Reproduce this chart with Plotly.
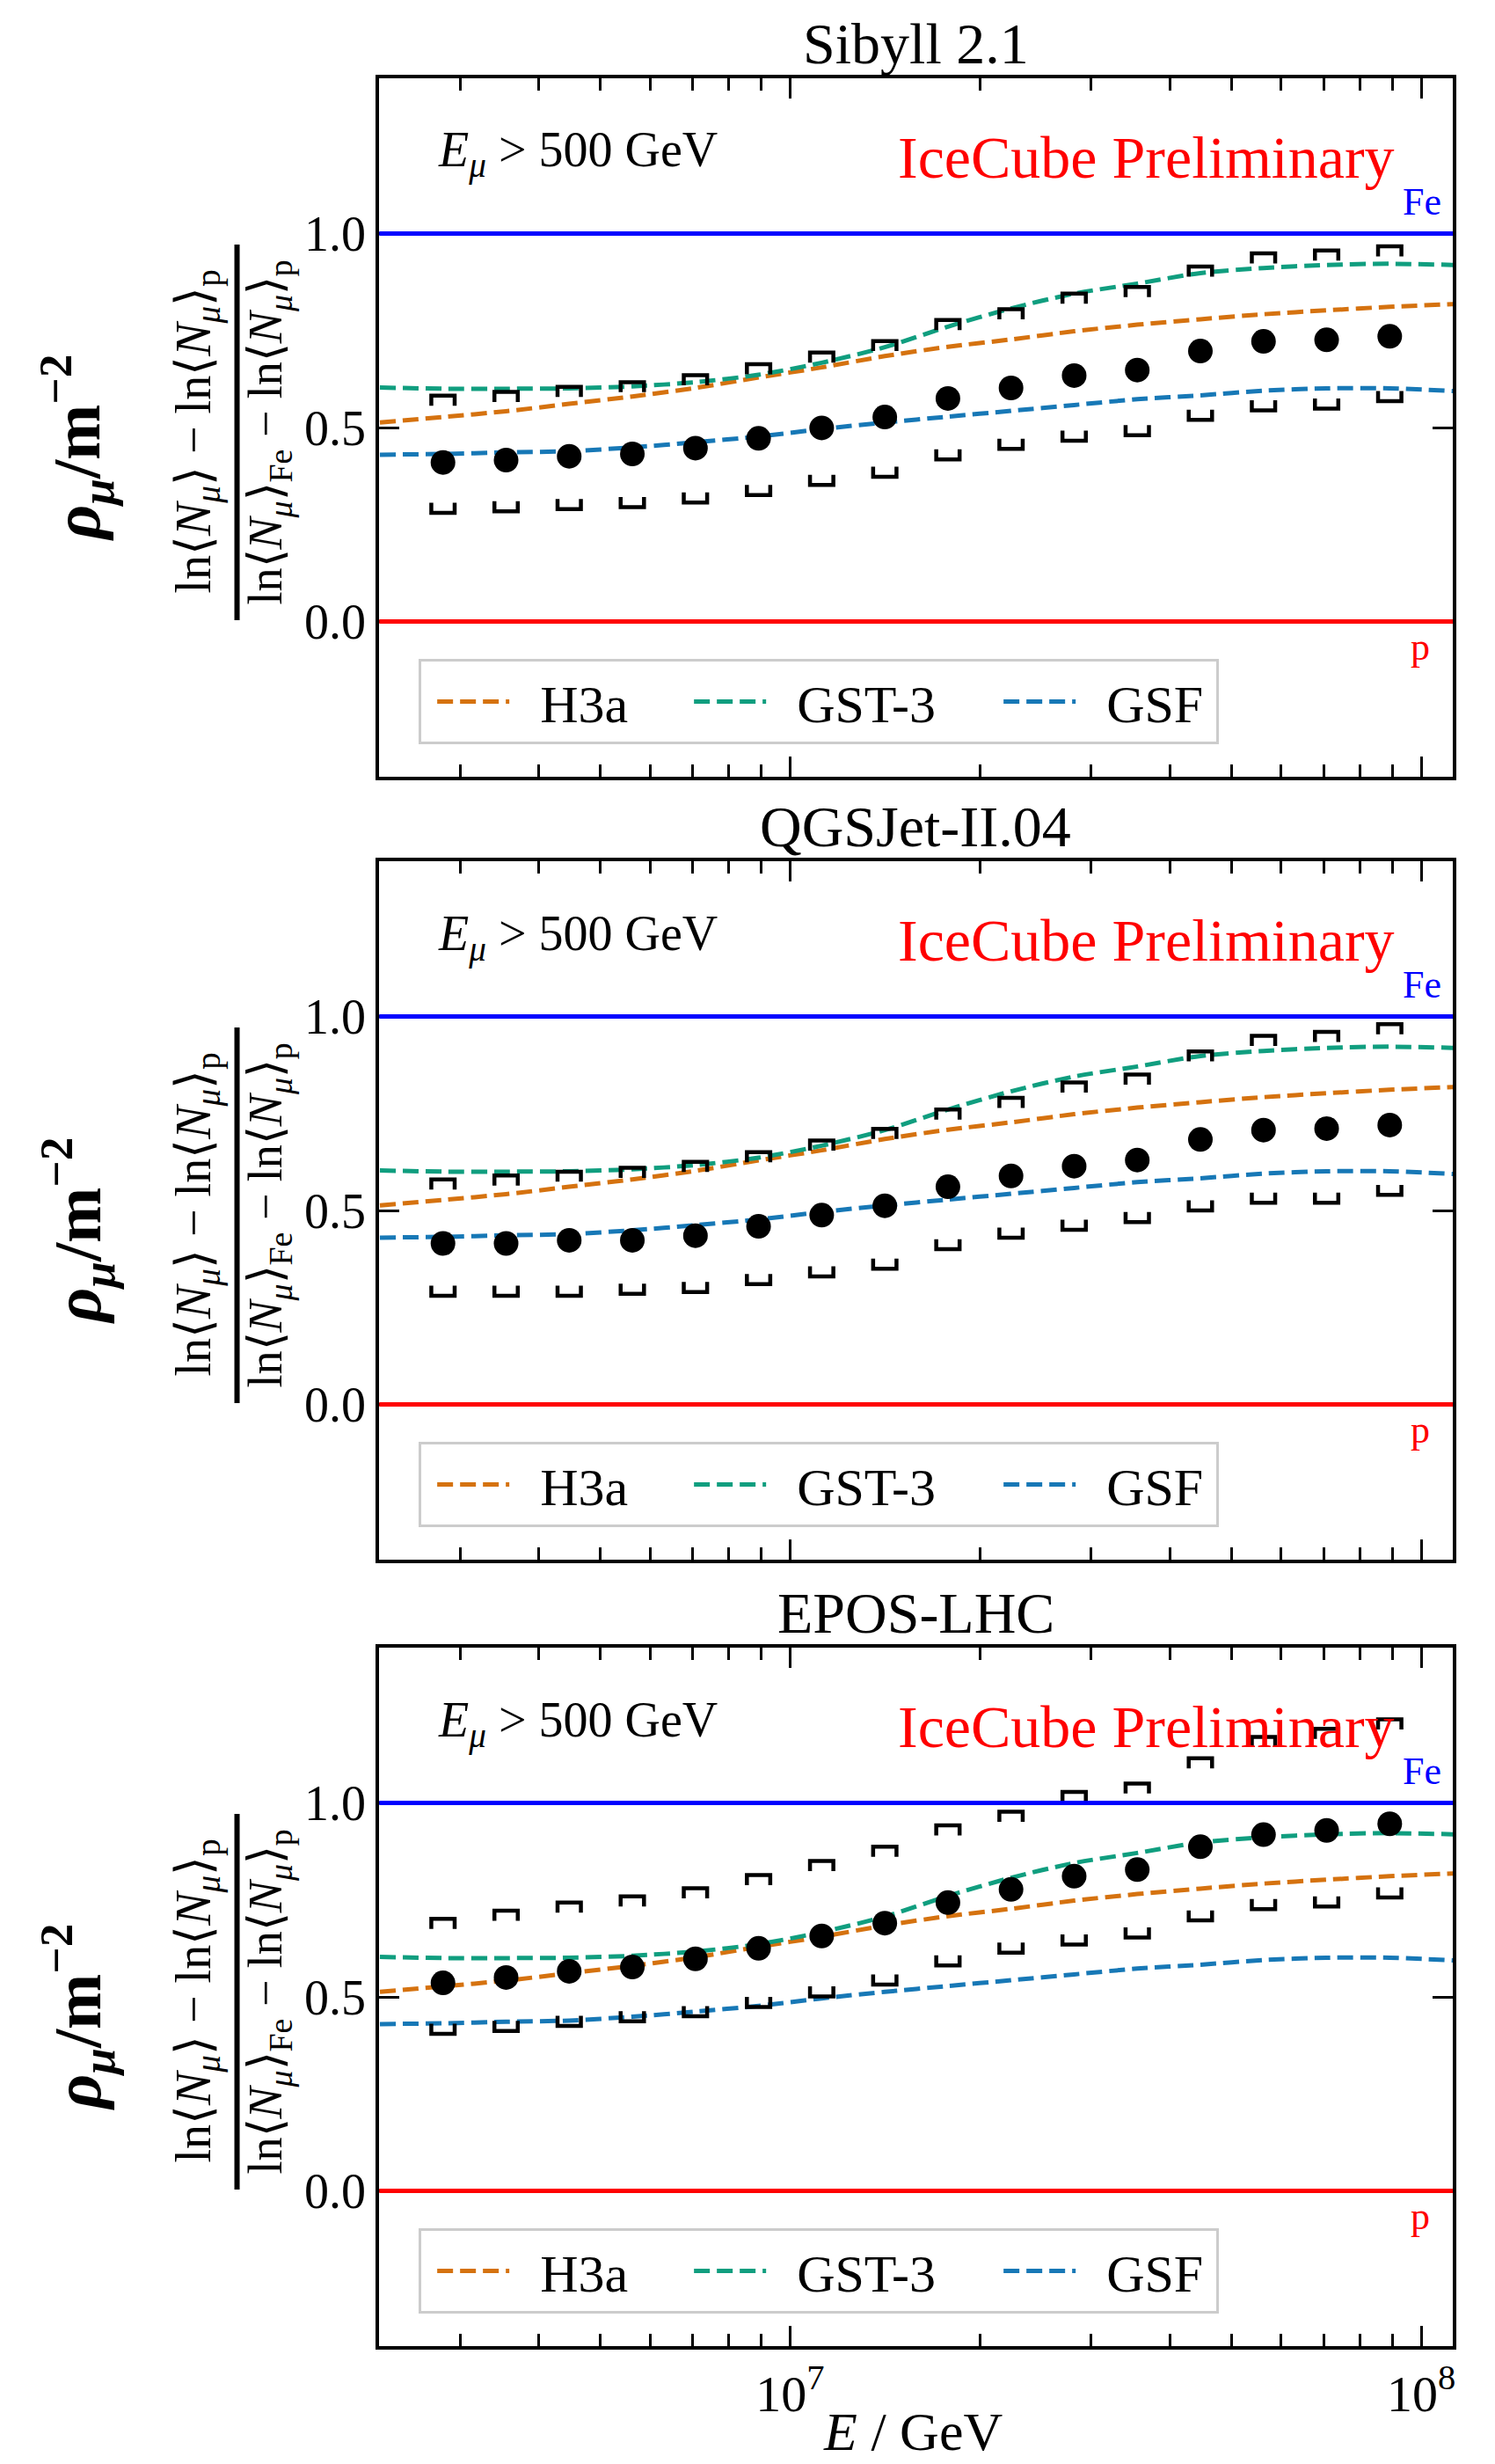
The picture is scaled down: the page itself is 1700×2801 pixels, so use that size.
import plotly.graph_objects as go

# ---------------- data ----------------
log_e_points = [6.45, 6.55, 6.65, 6.75, 6.85, 6.95, 7.05, 7.15,
                7.25, 7.35, 7.45, 7.55, 7.65, 7.75, 7.85, 7.95]

sibyll_mean = [0.410, 0.416, 0.426, 0.432, 0.447, 0.472, 0.499, 0.527,
               0.575, 0.602, 0.634, 0.648, 0.697, 0.722, 0.726, 0.735]
sibyll_upper = [0.582, 0.592, 0.605, 0.617, 0.635, 0.663, 0.693, 0.723,
                0.777, 0.805, 0.845, 0.862, 0.915, 0.949, 0.956, 0.967]
sibyll_lower = [0.280, 0.284, 0.290, 0.295, 0.307, 0.326, 0.352, 0.373,
                0.418, 0.445, 0.466, 0.480, 0.520, 0.544, 0.549, 0.568]

qgsjet_mean = [0.415, 0.415, 0.423, 0.423, 0.435, 0.459, 0.488, 0.512,
               0.561, 0.589, 0.614, 0.630, 0.683, 0.707, 0.711, 0.720]
qgsjet_upper = [0.580, 0.590, 0.600, 0.610, 0.625, 0.650, 0.680, 0.710,
                0.760, 0.790, 0.830, 0.850, 0.910, 0.950, 0.960, 0.980]
qgsjet_lower = [0.280, 0.280, 0.280, 0.285, 0.290, 0.310, 0.330, 0.350,
                0.400, 0.430, 0.450, 0.470, 0.500, 0.520, 0.520, 0.540]

epos_mean = [0.536, 0.550, 0.566, 0.577, 0.598, 0.625, 0.657, 0.690,
             0.743, 0.777, 0.811, 0.828, 0.887, 0.918, 0.929, 0.946]
epos_upper = [0.701, 0.722, 0.743, 0.759, 0.780, 0.814, 0.850, 0.887,
              0.942, 0.977, 1.028, 1.050, 1.115, 1.170, 1.191, 1.215]
epos_lower = [0.405, 0.412, 0.425, 0.437, 0.450, 0.474, 0.501, 0.532,
              0.581, 0.614, 0.635, 0.653, 0.697, 0.726, 0.733, 0.756]

model_log_e = [6.35, 6.45, 6.55, 6.65, 6.75, 6.85, 6.95, 7.05, 7.15,
               7.25, 7.35, 7.45, 7.55, 7.65, 7.75, 7.85, 7.95, 8.05]
h3a = [0.513, 0.527, 0.542, 0.561, 0.580, 0.602, 0.629, 0.655, 0.684,
       0.708, 0.727, 0.748, 0.765, 0.779, 0.792, 0.802, 0.811, 0.818]
gst3 = [0.603, 0.600, 0.600, 0.601, 0.606, 0.617, 0.636, 0.667, 0.707,
        0.760, 0.807, 0.845, 0.871, 0.898, 0.911, 0.919, 0.922, 0.919]
gsf = [0.430, 0.432, 0.436, 0.439, 0.449, 0.462, 0.477, 0.496, 0.513,
       0.528, 0.543, 0.558, 0.573, 0.583, 0.595, 0.601, 0.601, 0.594]

panel_titles = ["Sibyll 2.1", "QGSJet-II.04", "EPOS-LHC"]
model_names = ["H3a", "GST-3", "GSF"]
model_colors = ["#D5720F", "#109E7F", "#1778B6"]

x_major_ticks = [1e7, 1e8]
x_major_labels = ["10<sup>7</sup>", "10<sup>8</sup>"]
x_minor_ticks = [3e6, 4e6, 5e6, 6e6, 7e6, 8e6, 9e6,
                 2e7, 3e7, 4e7, 5e7, 6e7, 7e7, 8e7, 9e7]
y_ticks = [0.0, 0.5, 1.0]
y_labels = ["0.0", "0.5", "1.0"]

# ---------------- geometry / style ----------------
W, H = 1700, 2801
PLOT_L, PLOT_R = 432, 1655
PANEL_TOPS = [89, 979, 1873]
PANEL_H = 794
X_RANGE = [6.349, 8.050]
Y_RANGE = [-0.4, 1.4]
SERIF = "Liberation Serif"
BR_HW = 0.0185   # bracket half width (log10 units)
BR_LEG = 0.026   # bracket leg height (data units)
LEGEND_WIDTHS = [182, 242, 150]   # per-entry widths in the legend (px)
LEGEND_PAD = "\u2002"             # gap between legend line sample and label


def px(x):
    return x / W


def py(y):
    return 1 - y / H


def brackets(log_x, vals, sign):
    xs, ys = [], []
    for lx, v in zip(log_x, vals):
        xs += [10 ** (lx - BR_HW), 10 ** (lx - BR_HW), 10 ** (lx + BR_HW), 10 ** (lx + BR_HW), None]
        ys += [v + sign * BR_LEG, v, v, v + sign * BR_LEG, None]
    return xs, ys


energy = [10 ** v for v in log_e_points]
model_energy = [10 ** v for v in model_log_e]
panels = [(sibyll_mean, sibyll_upper, sibyll_lower),
          (qgsjet_mean, qgsjet_upper, qgsjet_lower),
          (epos_mean, epos_upper, epos_lower)]
models = [h3a, gst3, gsf]

fig = go.Figure()
layout = dict(width=W, height=H, margin=dict(l=0, r=0, t=0, b=0),
              autosize=False, paper_bgcolor="white", plot_bgcolor="white",
              font=dict(family=SERIF, color="black", size=56))
annotations = []
shapes = []

for i, (mean, up, lo) in enumerate(panels):
    sfx = "" if i == 0 else str(i + 1)
    xa, ya = "x" + sfx, "y" + sfx
    lg = "legend" + sfx
    top = PANEL_TOPS[i]
    bottom = top + PANEL_H

    for name, vals, color, lw in zip(model_names, models, model_colors, LEGEND_WIDTHS):
        fig.add_trace(go.Scatter(
            x=model_energy, y=vals, mode="lines", name=LEGEND_PAD + name,
            line=dict(color=color, width=5, dash="18px,8px", shape="spline", smoothing=0.8),
            xaxis=xa, yaxis=ya, legend=lg, legendwidth=lw, hoverinfo="skip"))

    bx, by = brackets(log_e_points, up, -1)
    fig.add_trace(go.Scatter(x=bx, y=by, mode="lines", line=dict(color="black", width=4.5),
                             xaxis=xa, yaxis=ya, showlegend=False, hoverinfo="skip"))
    bx, by = brackets(log_e_points, lo, +1)
    fig.add_trace(go.Scatter(x=bx, y=by, mode="lines", line=dict(color="black", width=4.5),
                             xaxis=xa, yaxis=ya, showlegend=False, hoverinfo="skip"))
    fig.add_trace(go.Scatter(x=energy, y=mean, mode="markers",
                             marker=dict(color="black", size=28, line=dict(width=0)),
                             xaxis=xa, yaxis=ya, showlegend=False))

    layout["xaxis" + sfx] = dict(
        type="log", range=X_RANGE, domain=[px(PLOT_L), px(PLOT_R)], anchor=ya,
        showline=True, linewidth=4, linecolor="black", mirror="ticks",
        ticks="inside", ticklen=23, tickwidth=3, tickcolor="black",
        tickvals=x_major_ticks, ticktext=x_major_labels,
        showticklabels=(i == 2), tickfont=dict(family=SERIF, size=58),
        minor=dict(ticks="inside", ticklen=14, tickwidth=3, tickcolor="black",
                   tickvals=x_minor_ticks, showgrid=False),
        showgrid=False, zeroline=False)
    layout["yaxis" + sfx] = dict(
        range=Y_RANGE, domain=[py(bottom), py(top)], anchor=xa,
        showline=True, linewidth=4, linecolor="black", mirror="ticks",
        ticks="inside", ticklen=23, tickwidth=3, tickcolor="black",
        tickvals=y_ticks, ticktext=y_labels, tickfont=dict(family=SERIF, size=56),
        showgrid=False, zeroline=False)

    layout[lg] = dict(
        x=px(477), y=py(top + 660), xanchor="left", yanchor="top",
        orientation="h", bgcolor="white", bordercolor="#cccccc", borderwidth=3,
        font=dict(family=SERIF, size=60), itemwidth=82, indentation=13,
        tracegroupgap=0)

    # reference composition lines
    shapes.append(dict(type="line", xref=xa + " domain", yref=ya, x0=0, x1=1, y0=1.0, y1=1.0,
                       line=dict(color="#0000FF", width=5)))
    shapes.append(dict(type="line", xref=xa + " domain", yref=ya, x0=0, x1=1, y0=0.0, y1=0.0,
                       line=dict(color="#FF0000", width=5)))

    # fraction bar of the y label
    shapes.append(dict(type="line", xref="paper", yref="paper", x0=px(270), x1=px(270),
                       y0=py(top + 189), y1=py(top + 616), line=dict(color="black", width=6)))

    annotations += [
        dict(text=panel_titles[i], x=px(1043), y=py(top - 40), xref="paper", yref="paper",
             xanchor="center", yanchor="middle", showarrow=False,
             font=dict(family=SERIF, size=66)),
        dict(text="<i>E</i><sub><i>μ</i></sub> > 500 GeV", x=px(497), y=py(top + 86),
             xref="paper", yref="paper", xanchor="left", yanchor="middle", showarrow=False,
             font=dict(family=SERIF, size=56)),
        dict(text="IceCube Preliminary", x=px(1591), y=py(top + 90), xref="paper", yref="paper",
             xanchor="right", yanchor="middle", showarrow=False,
             font=dict(family=SERIF, size=68, color="#FF0000")),
        dict(text="Fe", x=px(1620), y=py(top + 140), xref="paper", yref="paper",
             xanchor="center", yanchor="middle", showarrow=False,
             font=dict(family=SERIF, size=44, color="#0000FF")),
        dict(text="p", x=px(1618), y=py(top + 646), xref="paper", yref="paper",
             xanchor="center", yanchor="middle", showarrow=False,
             font=dict(family=SERIF, size=44, color="#FF0000")),
        dict(text="ln⟨<i>N</i><sub><i>μ</i></sub>⟩ − ln⟨<i>N</i><sub><i>μ</i></sub>⟩<sub>p</sub>",
             x=px(224), y=py(top + 402), xref="paper", yref="paper", textangle=-90,
             xanchor="center", yanchor="middle", showarrow=False,
             font=dict(family=SERIF, size=56)),
        dict(text="ln⟨<i>N</i><sub><i>μ</i></sub>⟩<sub>Fe</sub> − ln⟨<i>N</i><sub><i>μ</i></sub>⟩<sub>p</sub>",
             x=px(306), y=py(top + 402), xref="paper", yref="paper", textangle=-90,
             xanchor="center", yanchor="middle", showarrow=False,
             font=dict(family=SERIF, size=54)),
        dict(text="<b><i>ρ</i><sub><i>μ</i></sub>/m<sup>−2</sup></b>",
             x=px(88), y=py(top + 420), xref="paper", yref="paper", textangle=-90,
             xanchor="center", yanchor="middle", showarrow=False,
             font=dict(family=SERIF, size=76)),
    ]

annotations.append(dict(text="<i>E</i> / GeV", x=px(1040), y=py(2764), xref="paper", yref="paper",
                        xanchor="center", yanchor="middle", showarrow=False,
                        font=dict(family=SERIF, size=62)))

layout["annotations"] = annotations
layout["shapes"] = shapes
fig.update_layout(**layout)
fig.write_html("out.html")
